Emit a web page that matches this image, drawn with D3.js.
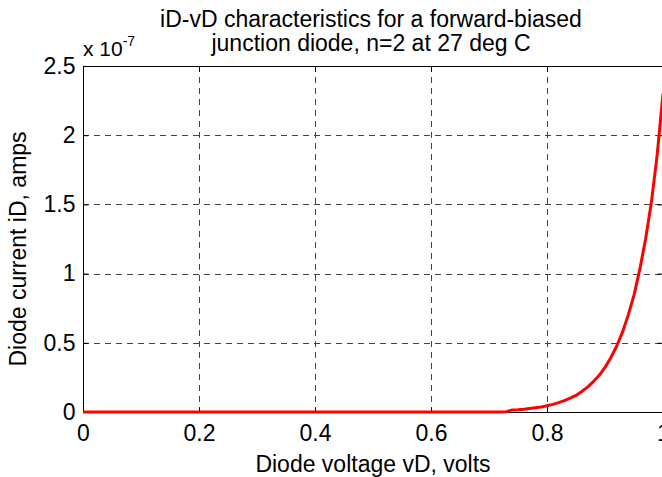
<!DOCTYPE html>
<html>
<head>
<meta charset="utf-8">
<script src="https://cdn.jsdelivr.net/npm/d3@7"></script>
<style>
  body { margin: 0; background: #fff; }
  text { font-family: "Liberation Sans", Arial, sans-serif; fill: #000; }
</style>
</head>
<body>
<div id="chart"></div>
<script>
// diode voltage (volts) and current (units of 1e-7 A)
const vD = [0, 0.05, 0.10, 0.15, 0.20, 0.25, 0.30, 0.35, 0.40, 0.45, 0.50, 0.55, 0.60, 0.65,
            0.70, 0.71, 0.72, 0.73, 0.74, 0.75, 0.76, 0.77, 0.78, 0.79, 0.80,
            0.81, 0.82, 0.83, 0.84, 0.85, 0.86, 0.87, 0.88, 0.89, 0.90,
            0.91, 0.92, 0.93, 0.94, 0.95, 0.96, 0.97, 0.98, 0.99, 1.00]
const iD = [0, 0, 0, 0, 0, 0, 0, 0, 0, 0, 0, 0, 0, 0,
            0, 0, 0, 0.002, 0.015, 0.016, 0.020, 0.026, 0.031, 0.036, 0.045,
            0.055, 0.068, 0.082, 0.100, 0.120, 0.148, 0.180, 0.220, 0.265, 0.322,
            0.392, 0.475, 0.575, 0.700, 0.845, 1.030, 1.250, 1.515, 1.860, 2.300]

const xTicks = [0, 0.2, 0.4, 0.6, 0.8, 1]
const yTicks = [0, 0.5, 1, 1.5, 2, 2.5]
const titleLines = ["iD-vD characteristics for a forward-biased", "junction diode, n=2 at 27 deg C"]

const W = 662, H = 477
const PLOT = { LEFT: 83, RIGHT: 663, TOP: 66, BOTTOM: 412 }
const FONT = 23

const svg = d3.select("#chart").append("svg")
  .attr("width", W)
  .attr("height", H)

const x = d3.scaleLinear().domain([0, 1]).range([PLOT.LEFT, PLOT.RIGHT])
const y = d3.scaleLinear().domain([0, 2.5]).range([PLOT.BOTTOM, PLOT.TOP])

// grid
svg.append("g").selectAll("line")
  .data(xTicks.filter(d => d > 0 && d < 1))
  .join("line")
  .attr("x1", d => Math.round(x(d)) + 0.5).attr("x2", d => Math.round(x(d)) + 0.5)
  .attr("y1", PLOT.TOP).attr("y2", PLOT.BOTTOM)
  .attr("stroke", "#444").attr("stroke-dasharray", "6,5")

svg.append("g").selectAll("line")
  .data(yTicks.filter(d => d > 0 && d < 2.5))
  .join("line")
  .attr("y1", d => Math.round(y(d)) + 0.5).attr("y2", d => Math.round(y(d)) + 0.5)
  .attr("x1", PLOT.LEFT).attr("x2", PLOT.RIGHT)
  .attr("stroke", "#444").attr("stroke-dasharray", "6,5")

// axes with inward ticks
const xAxis = svg.append("g")
  .attr("transform", `translate(0, ${PLOT.BOTTOM + 0.5})`)
  .call(d3.axisBottom(x).tickValues(xTicks).tickFormat(d3.format("~g"))
    .tickSizeInner(-5).tickSizeOuter(0).tickPadding(12))
xAxis.select(".domain").remove()

const yAxis = svg.append("g")
  .attr("transform", `translate(${PLOT.LEFT + 0.5}, 0)`)
  .call(d3.axisLeft(y).tickValues(yTicks).tickFormat(d3.format("~g"))
    .tickSizeInner(-5).tickSizeOuter(0).tickPadding(8))
yAxis.select(".domain").remove()

// top and right ticks
const topAxis = svg.append("g")
  .attr("transform", `translate(0, ${PLOT.TOP + 0.5})`)
  .call(d3.axisTop(x).tickValues(xTicks).tickFormat("").tickSizeInner(-5).tickSizeOuter(0))
topAxis.select(".domain").remove()

const rightAxis = svg.append("g")
  .attr("transform", `translate(${PLOT.RIGHT - 0.5}, 0)`)
  .call(d3.axisRight(y).tickValues(yTicks).tickFormat("").tickSizeInner(-5).tickSizeOuter(0))
rightAxis.select(".domain").remove()

svg.selectAll(".tick text").attr("font-size", FONT).attr("font-family", "Liberation Sans, Arial, sans-serif")
svg.selectAll(".tick line").attr("stroke", "#000")

// box
svg.append("rect")
  .attr("x", PLOT.LEFT + 0.5).attr("y", PLOT.TOP + 0.5)
  .attr("width", PLOT.RIGHT - PLOT.LEFT - 1).attr("height", PLOT.BOTTOM - PLOT.TOP)
  .attr("fill", "none").attr("stroke", "#000")

// curve
const line = d3.line()
  .x((d, i) => x(vD[i]))
  .y(d => y(d))

svg.append("path")
  .datum(iD)
  .attr("d", line)
  .attr("fill", "none")
  .attr("stroke", "#ff0000")
  .attr("stroke-width", 3)
  .attr("stroke-linejoin", "round")

// exponent label
const expo = svg.append("text")
  .attr("x", 83).attr("y", 56)
  .attr("font-size", 21)
expo.append("tspan").text("x 10")
expo.append("tspan").attr("dy", -10).attr("font-size", 14).text("-7")

// title
svg.append("g").selectAll("text")
  .data(titleLines)
  .join("text")
  .attr("x", (PLOT.LEFT + PLOT.RIGHT) / 2 - 2)
  .attr("y", (d, i) => 27 + i * 24)
  .attr("text-anchor", "middle")
  .attr("font-size", FONT)
  .text(d => d)

// axis labels
svg.append("text")
  .attr("x", (PLOT.LEFT + PLOT.RIGHT) / 2)
  .attr("y", 472)
  .attr("text-anchor", "middle")
  .attr("font-size", FONT)
  .text("Diode voltage vD, volts")

svg.append("text")
  .attr("transform", `translate(26, ${(PLOT.TOP + PLOT.BOTTOM) / 2 + 10}) rotate(-90)`)
  .attr("text-anchor", "middle")
  .attr("font-size", FONT)
  .text("Diode current iD, amps")
</script>
</body>
</html>
